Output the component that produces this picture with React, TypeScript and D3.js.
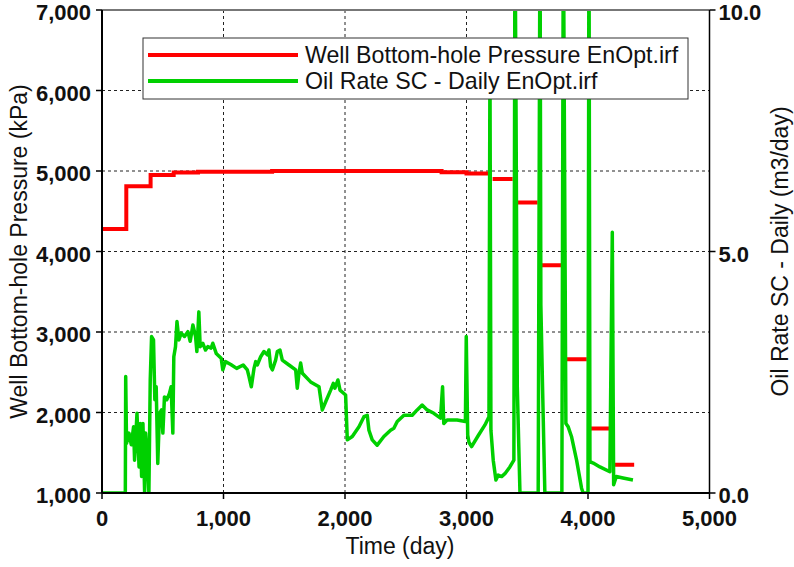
import React from "react";
import * as d3 from "d3";

// ---- Data ----
const pressureTime: (number | null)[] = [
  0, 200, 200, 400, 400, 590, 590, 790, 790, 1400, 1400, 2795, 2795, 3000, 3000, 3188,
  null, 3215, 3380,
  null, 3420, 3585,
  null, 3620, 3782,
  null, 3820, 3990,
  null, 4016, 4186,
  null, 4214, 4380,
];
const pressureValue: (number | null)[] = [
  4280, 4280, 4810, 4810, 4950, 4950, 4980, 4980, 4990, 4990, 5000, 5000, 4985, 4985, 4970, 4970,
  null, 4900, 4900,
  null, 4610, 4610,
  null, 3830, 3830,
  null, 2660, 2660,
  null, 1800, 1800,
  null, 1350, 1350,
];

const rateTime: number[] = [
  0, 192, 195, 202, 222, 241, 260, 268, 288, 305, 315, 326, 337, 351, 359, 373, 386, 397, 408, 424,
  435, 446, 459, 473, 490, 501, 514, 533, 555, 569, 583, 591, 605, 617, 633, 652, 679, 707, 726, 748,
  770, 781, 797, 808, 830, 852, 871, 898, 912, 940, 981, 994, 1016, 1060, 1108, 1162, 1196, 1210, 1229,
  1251, 1265, 1278, 1306, 1333, 1361, 1374, 1388, 1402, 1429, 1443, 1465, 1484, 1539, 1594, 1607, 1621,
  1635, 1649, 1717, 1786, 1813, 1841, 1882, 1904, 1917, 1942, 1959, 2005, 2019, 2060, 2115, 2156, 2183,
  2197, 2224, 2265, 2320, 2375, 2402, 2430, 2485, 2553, 2594, 2635, 2676, 2731, 2786, 2803, 2813, 2840,
  2922, 2991, 2998, 3010, 3020, 3042, 3097, 3152, 3185, 3193, 3201, 3220, 3242, 3261, 3289, 3316,
  3357, 3390, 3399, 3408, 3418, 3440, 3590, 3605, 3612, 3625, 3645, 3785, 3797, 3818, 3837, 3864, 3906,
  3947, 3960, 4000, 4008, 4016, 4043, 4098, 4180, 4200, 4211, 4233, 4288, 4370,
];
const rateValue: number[] = [
  0, 0, 2.41, 1.03, 1.24, 1.0, 1.37, 0.68, 1.65, 0.54, 1.44, 0.34, 1.44, 0, 1.24, 0.75, 0, 2.34, 3.24, 3.17,
  1.93, 2.2, 0.61, 1.65, 1.72, 1.24, 1.99, 1.93, 2.06, 2.2, 1.24, 2.82, 3.03, 3.55, 3.17, 3.31, 3.24, 3.34, 3.14, 3.48,
  3.24, 2.93, 3.75, 3.03, 3.1, 2.96, 3.03, 3.0, 3.1, 2.89, 2.79, 2.55, 2.72, 2.66, 2.58, 2.65, 2.55, 2.41, 2.2,
  2.58, 2.72, 2.65, 2.82, 2.93, 2.86, 2.96, 2.62, 2.55, 2.75, 2.93, 2.96, 2.75, 2.65, 2.55, 2.17, 2.48,
  2.69, 2.48, 2.3, 2.2, 1.72, 1.89, 2.13, 2.27, 2.17, 2.34, 2.13, 2.03, 1.1, 1.17, 1.37, 1.58, 1.61,
  1.3, 1.1, 0.99, 1.17, 1.3, 1.34, 1.48, 1.61, 1.61, 1.72, 1.82, 1.72, 1.65, 1.55, 2.2, 1.44, 1.51,
  1.51, 1.48, 3.24, 1.2, 1.05, 0.96, 1.19, 1.41, 1.58, 9.0, 1.3, 0.68, 0.27, 0.37, 0.34, 0.4,
  0.54, 0.68, 12, 7.76, 2.2, 0, 0, 12, 3.9, 2.3, 0, 0, 12, 1.44, 1.37, 1.17, 0.68,
  0.1, 0, 0, 12, 0.65, 0.62, 0.54, 0.44, 5.4, 0.17, 0.34, 0.31, 0.27,
];

const xTicks = [0, 1000, 2000, 3000, 4000, 5000];
const leftTicks = [1000, 2000, 3000, 4000, 5000, 6000, 7000];
const rightTicks = [0, 5, 10];
const legendLabels = ["Well Bottom-hole Pressure EnOpt.irf", "Oil Rate SC - Daily EnOpt.irf"];
const seriesColors = ["#ff0000", "#00d000"];

// ---- Layout ----
const W = 794;
const H = 567;
const L = 102;
const R = 709.5;
const T = 10;
const B = 493;

export default function App() {
  const x = d3.scaleLinear().domain([0, 5000]).range([L, R]);
  const yL = d3.scaleLinear().domain([1000, 7000]).range([B, T]);
  const yR = d3.scaleLinear().domain([0, 10]).range([B, T]);
  const fmtL = d3.format(",");
  const fmtR = d3.format(".1f");

  const pIdx = pressureTime.map((_, i) => i);
  const pLine = d3
    .line<number>()
    .defined((i) => pressureTime[i] != null && pressureValue[i] != null)
    .x((i) => x(pressureTime[i] as number))
    .y((i) => yL(pressureValue[i] as number));

  const rIdx = rateTime.map((_, i) => i);
  const rLine = d3
    .line<number>()
    .x((i) => x(rateTime[i]))
    .y((i) => yR(rateValue[i]));

  const font = "Arial, 'Liberation Sans', sans-serif";
  const tickFs = 22;
  const titleFs = 23;

  return (
    <svg
      width={W}
      height={H}
      style={{ position: "absolute", left: 0, top: 0, background: "#fff" }}
      fontFamily={font}
    >
      <defs>
        <clipPath id="plotclip">
          <rect x={L} y={T} width={R - L} height={B - T} />
        </clipPath>
      </defs>
      <rect x={0} y={0} width={W} height={H} fill="#fff" />

      {/* grid */}
      {xTicks.slice(1, -1).map((t) => (
        <line key={"gx" + t} x1={x(t)} x2={x(t)} y1={T} y2={B} stroke="#222" strokeWidth={1} strokeDasharray="3,3" />
      ))}
      {leftTicks.slice(1, -1).map((t) => (
        <line key={"gy" + t} x1={L} x2={R} y1={yL(t)} y2={yL(t)} stroke="#222" strokeWidth={1} strokeDasharray="3,3" />
      ))}

      {/* series */}
      <g clipPath="url(#plotclip)">
        <path d={pLine(pIdx) || ""} fill="none" stroke={seriesColors[0]} strokeWidth={4} />
        <path d={rLine(rIdx) || ""} fill="none" stroke={seriesColors[1]} strokeWidth={3.5} strokeLinejoin="round" />
      </g>

      {/* frame */}
      <line x1={L} x2={R} y1={T} y2={T} stroke="#777" strokeWidth={2} />
      <line x1={L} x2={L} y1={T} y2={B} stroke="#000" strokeWidth={2} />
      <line x1={R} x2={R} y1={T} y2={B} stroke="#000" strokeWidth={1.5} />
      <line x1={L} x2={R} y1={B} y2={B} stroke="#000" strokeWidth={2} />

      {/* left axis */}
      {leftTicks.map((t) => (
        <g key={"l" + t}>
          <line x1={L - 6} x2={L} y1={yL(t)} y2={yL(t)} stroke="#000" strokeWidth={1.5} />
          <text x={L - 11} y={yL(t) + 10} textAnchor="end" fontSize={tickFs} fontWeight="bold" fill="#111">
            {fmtL(t)}
          </text>
        </g>
      ))}
      {/* right axis */}
      {rightTicks.map((t) => (
        <g key={"r" + t}>
          <line x1={R} x2={R + 6} y1={yR(t)} y2={yR(t)} stroke="#000" strokeWidth={1.5} />
          <text x={R + 9} y={yR(t) + 10} textAnchor="start" fontSize={tickFs} fontWeight="bold" fill="#111">
            {fmtR(t)}
          </text>
        </g>
      ))}
      {/* bottom axis */}
      {xTicks.map((t) => (
        <g key={"b" + t}>
          <line x1={x(t)} x2={x(t)} y1={B} y2={B + 6} stroke="#000" strokeWidth={1.5} />
          <text x={x(t)} y={526} textAnchor="middle" fontSize={tickFs} fontWeight="bold" fill="#111">
            {fmtL(t)}
          </text>
        </g>
      ))}

      {/* axis titles */}
      <text x={400} y={554} textAnchor="middle" fontSize={titleFs} fill="#111">
        Time (day)
      </text>
      <text
        transform={`translate(27, ${(T + B) / 2}) rotate(-90)`}
        textAnchor="middle"
        fontSize={titleFs}
        fill="#111"
      >
        Well Bottom-hole Pressure (kPa)
      </text>
      <text
        transform={`translate(788, ${(T + B) / 2}) rotate(-90)`}
        textAnchor="middle"
        fontSize={titleFs}
        fill="#111"
      >
        Oil Rate SC - Daily (m3/day)
      </text>

      {/* legend */}
      <rect x={143} y={38} width={545} height={61} fill="#fff" stroke="#333" strokeWidth={1} />
      {legendLabels.map((lab, i) => (
        <g key={lab}>
          <line x1={148} x2={298} y1={55 + i * 26} y2={55 + i * 26} stroke={seriesColors[i]} strokeWidth={4} />
          <text x={305} y={63 + i * 26} fontSize={23.2} fill="#111">
            {lab}
          </text>
        </g>
      ))}
    </svg>
  );
}
